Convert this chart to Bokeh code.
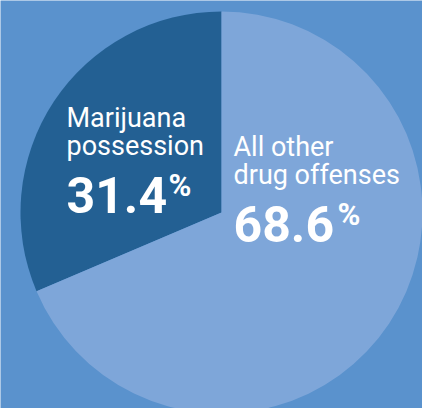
import math
from bokeh.plotting import figure
from bokeh.models import Range1d, ColumnDataSource
from bokeh.core.properties import value
from bokeh.embed import file_html
from bokeh.resources import INLINE

# ---- data ----
categories = ["Marijuana possession", "All other drug offenses"]
shares = [31.4, 68.6]
label_lines = [["Marijuana", "possession"], ["All other", "drug offenses"]]
slice_colors = ["#236093", "#7ea6d9"]
bg_color = "#5a92cd"

W, H = 422, 408

def sx(x):  # screen x -> data x
    return x

def sy(y):  # screen y -> data y
    return H - y

p = figure(width=W, height=H, output_backend="svg", toolbar_location=None,
           x_range=Range1d(0, W), y_range=Range1d(0, H), min_border=0)
p.axis.visible = False
p.grid.visible = False
p.outline_line_color = None
p.background_fill_color = bg_color
p.border_fill_color = bg_color

# pie geometry (screen)
cx, cy, r = 221, 212, 201
total = sum(shares)
starts, ends = [], []
a = math.pi / 2
for s in shares:
    starts.append(a)
    a += s / total * 2 * math.pi
    ends.append(a)

src = ColumnDataSource(dict(cat=categories, share=shares, start=starts, end=ends, color=slice_colors,
                            x=[sx(cx)] * len(shares), y=[sy(cy)] * len(shares)))
p.wedge(x="x", y="y", radius=r, start_angle="start", end_angle="end",
        fill_color="color", line_color=None, source=src)

font = value("Roboto")
# label anchors (screen positions)
text_x = [66, 233]
line1_y = [117, 146]
pct_y = [194, 223]
pct_sign_x = [168, 337]
pct_sign_y = [185, 214]

for i in range(len(categories)):
    for j, line in enumerate(label_lines[i]):
        p.text(x=[sx(text_x[i])], y=[sy(line1_y[i] + 28 * j)], text=[line],
               text_font=font, text_font_size="27px", text_color="white",
               text_align="left", text_baseline="alphabetic")
    p.text(x=[sx(text_x[i])], y=[sy(pct_y[i])], text=[f"{shares[i]:.1f}"],
           text_font=font, text_font_size="50px", text_font_style="bold",
           text_color="white", text_align="left", text_baseline="alphabetic")
    p.text(x=[sx(pct_sign_x[i])], y=[sy(pct_sign_y[i])], text=["%"],
           text_font=font, text_font_size="31px", text_font_style="bold",
           text_color="white", text_align="left", text_baseline="alphabetic")

open("out.html", "w").write(file_html(p, INLINE))
